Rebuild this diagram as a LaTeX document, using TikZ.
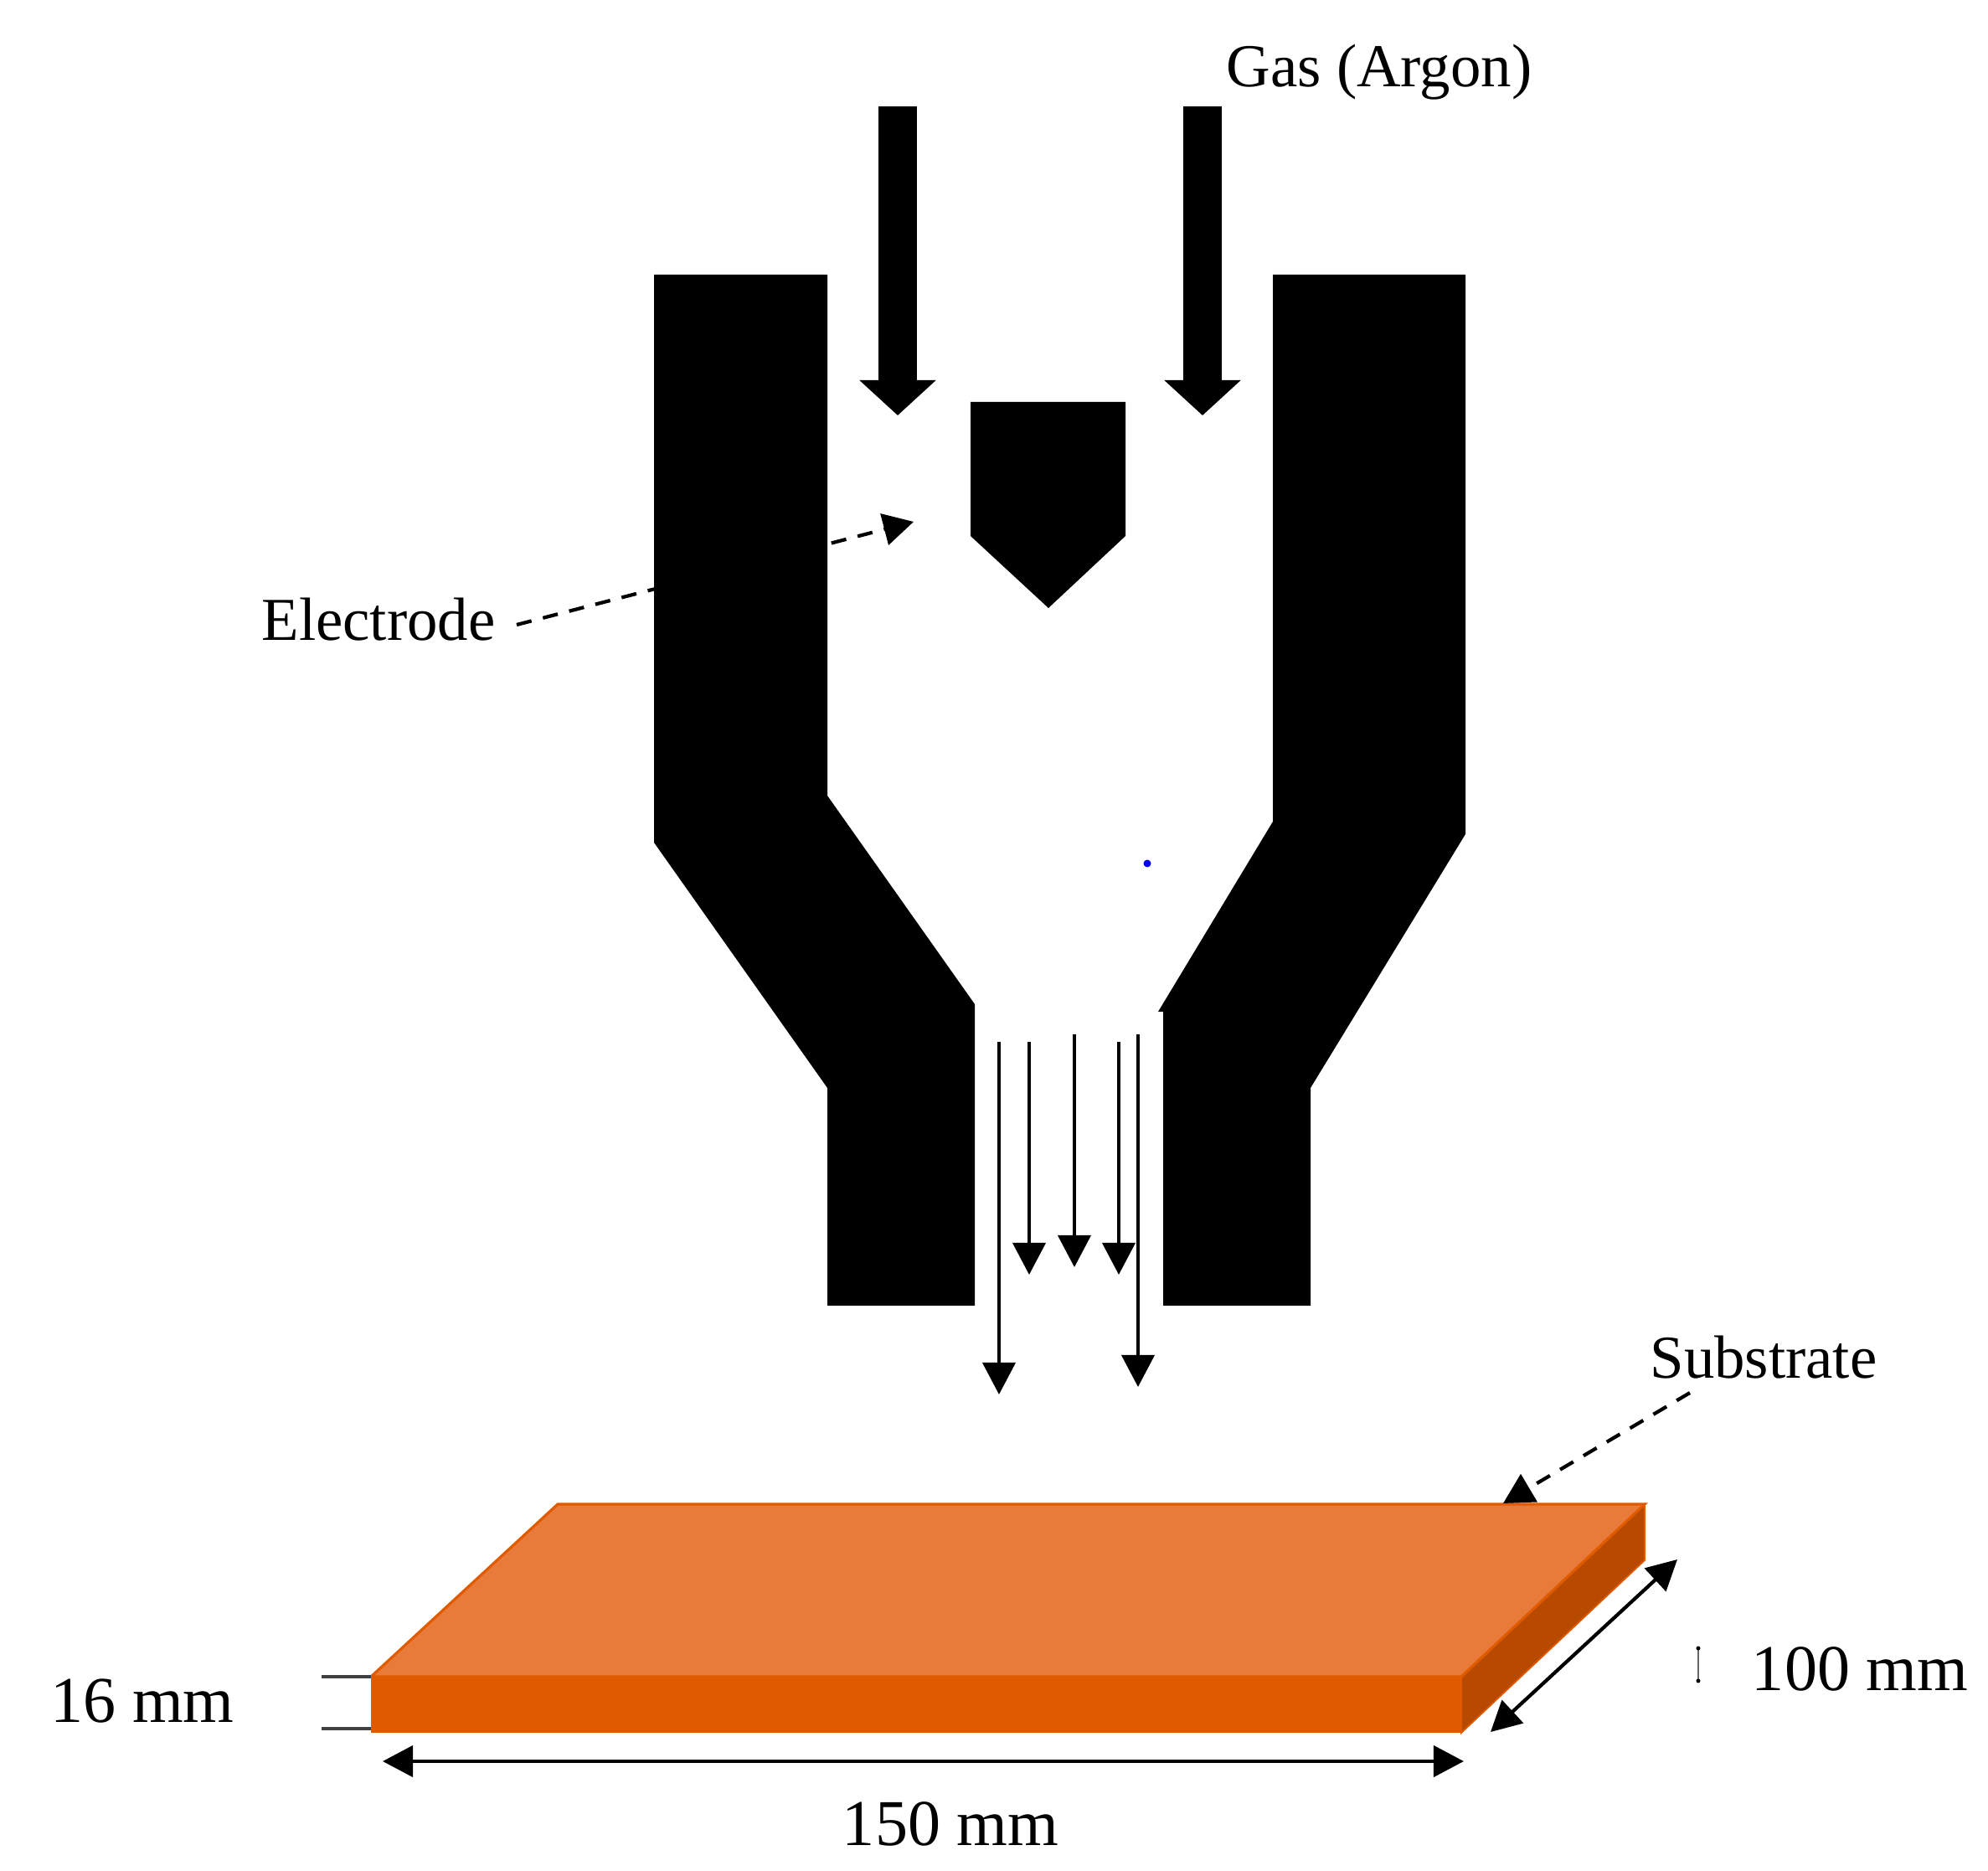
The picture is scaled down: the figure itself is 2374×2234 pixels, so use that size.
\documentclass[tikz,border=0pt]{standalone}
\usepackage{fontspec}
\setmainfont{Liberation Serif}
\usetikzlibrary{arrows.meta}
\definecolor{topface}{HTML}{E87B3A}
\definecolor{frontface}{HTML}{E05A00}
\definecolor{sideface}{HTML}{B84A00}
\tikzset{
  lbl/.style={anchor=base,inner sep=0pt,font=\fontsize{20.7}{21}\selectfont},
  lblbig/.style={anchor=base,inner sep=0pt,font=\fontsize{22.2}{22}\selectfont},
  flow/.style={-{Triangle[length=38*0.2845pt,width=39*0.2845pt]},line width=1.1pt},
  gasflow/.style={-{Triangle[length=42*0.2845pt,width=89*0.2845pt]},line width=45*0.2845pt},
  note/.style={-{Triangle[length=36*0.2845pt,width=38*0.2845pt]},line width=1.2pt,dash pattern=on 5.2pt off 4pt},
  dimen/.style={{Triangle[length=36*0.2845pt,width=37*0.2845pt]}-{Triangle[length=36*0.2845pt,width=37*0.2845pt]},line width=1.2pt},
}
\begin{document}
\begin{tikzpicture}[line cap=butt,line join=miter,x=0.01cm,y=-0.01cm]
\useasboundingbox (0,0) rectangle (2374,2234);
% labels
\node[lbl] (gas) at (1647,104) {Gas (Argon)};
\node[lbl] (electrode) at (452,765) {Electrode};
\node[lbl] (substrate) at (2106,1646) {Substrate};
\node[lblbig] (thick) at (170,2056) {16 mm};
\node[lblbig] (wide) at (1135,2203) {150 mm};
\node[lblbig] (deep) at (2221,2018) {100 mm};
% electrode pointer runs behind the wall
\coordinate (etail) at (617,746);
\coordinate (etip) at (1091,623);
\draw[note] (etail) -- (etip);
% walls and electrode
\fill (781,328) -- (988,328) -- (988,950) -- (1164,1199) -- (1164,1559) -- (988,1559) -- (988,1299) -- (781,1006) -- cycle;
\fill (1520,328) -- (1750,328) -- (1750,996) -- (1565,1299) -- (1565,1559) -- (1389,1559) -- (1389,1208) -- (1383,1208) -- (1520,981) -- cycle;
\fill (1159,480) -- (1344,480) -- (1344,640) -- (1252,726) -- (1159,640) -- cycle;
\fill[blue] (1370,1031) circle (4.5);
% gas in
\foreach \gx in {1072,1436}{
  \coordinate (gtop) at (\gx,127);
  \coordinate (gtip) at (\gx,496);
  \draw[gasflow] (gtop) -- (gtip);
}
% flow through the nozzle
\foreach \px/\ptop/\ptip in {1193/1244/1665,1229/1244/1522,1283/1235/1513,1336/1244/1522,1359/1235/1656}{
  \coordinate (ftop) at (\px,\ptop);
  \coordinate (ftip) at (\px,\ptip);
  \draw[flow] (ftop) -- (ftip);
}
% substrate
\coordinate (fl) at (443,2002);
\coordinate (fr) at (1745,2002);
\coordinate (bl) at (666,1796);
\coordinate (br) at (1964,1796);
\fill[frontface] (fl) rectangle (1745,2069);
\filldraw[fill=sideface,draw=frontface,line width=0.5pt] (fr) -- (br) -- (1964,1863) -- (1745,2069) -- cycle;
\filldraw[fill=topface,draw=frontface,line width=0.9pt] (fl) -- (bl) -- (br) -- (fr) -- cycle;
\coordinate (stail) at (2018,1663);
\coordinate (stip) at (1795,1795);
\draw[note] (stail) -- (stip);
% dimensions
\foreach \ty in {2002,2064}{
  \coordinate (tl) at (384,\ty);
  \coordinate (tr) at (443,\ty);
  \draw[line width=1pt,black!75] (tl) -- (tr);
}
\coordinate (wl) at (457,2103);
\coordinate (wr) at (1748,2103);
\draw[dimen] (wl) -- (wr);
\coordinate (du) at (2003,1862);
\coordinate (dl) at (1780,2068);
\draw[dimen] (du) -- (dl);
% stray mark by the 100 mm label
\coordinate (ma) at (2028,1968);
\coordinate (mb) at (2028,2007);
\draw[line width=0.3pt,black!60] (ma) -- (mb);
\fill (ma) circle (2.5);
\fill (mb) circle (2.5);
\end{tikzpicture}
\end{document}
